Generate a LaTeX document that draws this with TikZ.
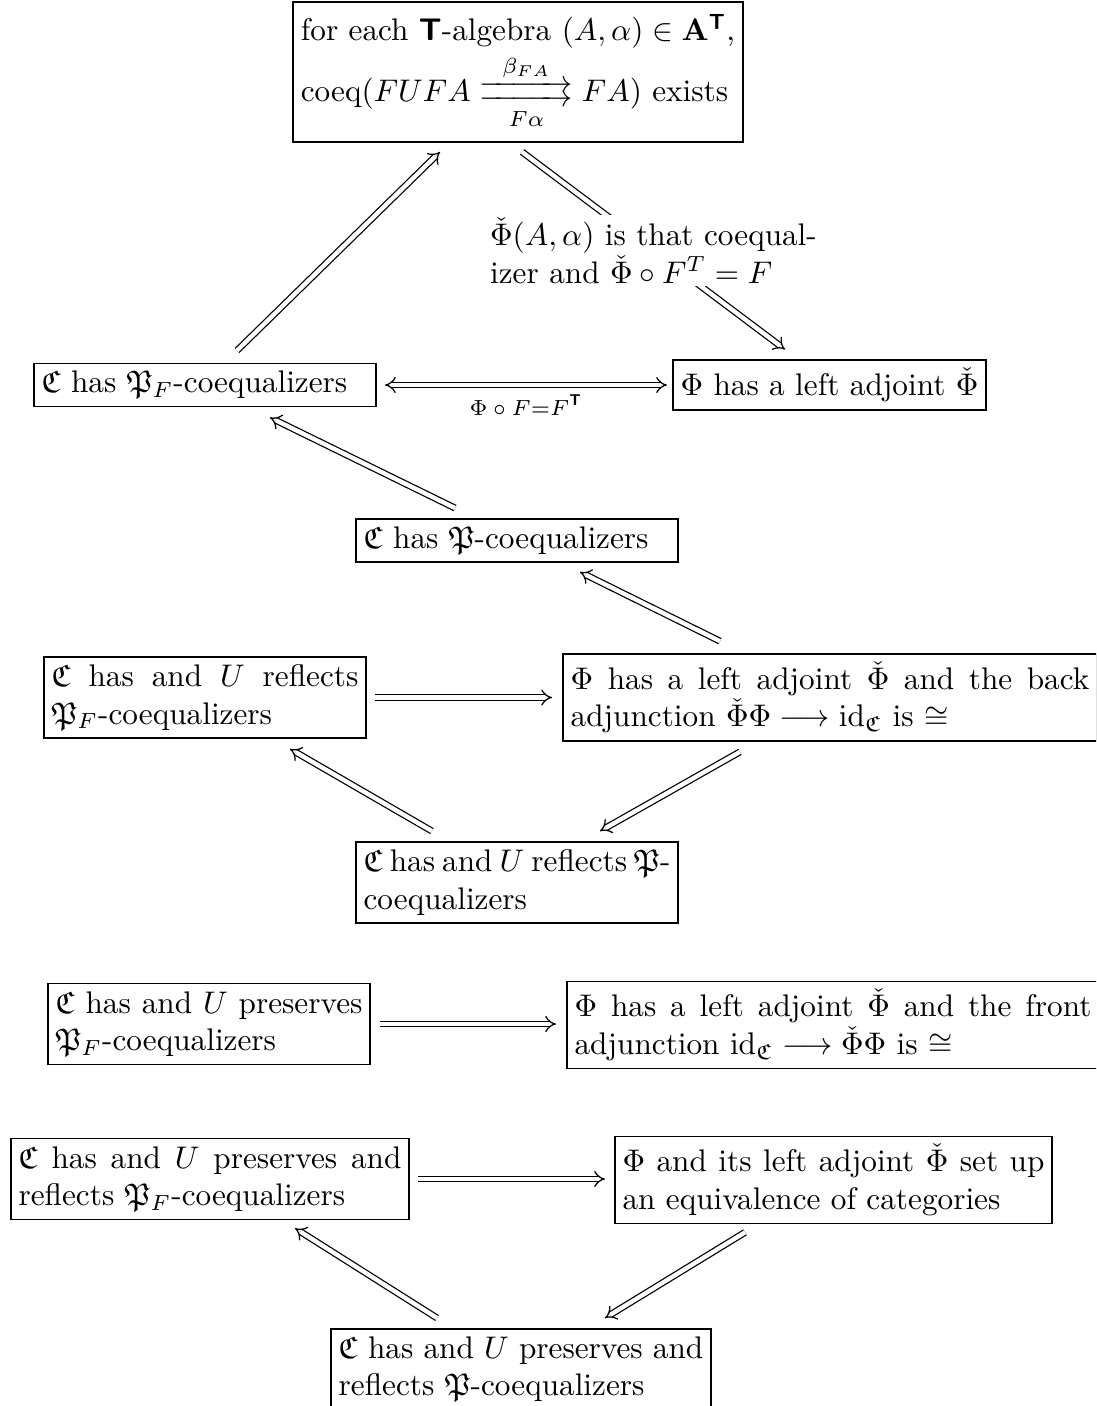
\documentclass[tikz,border=0pt]{standalone}
\usepackage{amsmath,amssymb}
\usetikzlibrary{arrows.meta,calc}
\newcommand{\bT}{\text{\sffamily\bfseries T}}
\newcommand{\pararrows}[2]{\mathrel{\mathop{\vcenter{\offinterlineskip\hbox to 30pt{\rightarrowfill}\kern0.8pt\hbox to 30pt{\rightarrowfill}}}\limits^{#1}_{#2}}}
\tikzset{
  box/.style={draw, line width=0.5pt, inner sep=2.5pt, align=justify},
  dbl/.style={double, double distance=1.4pt, line width=0.4pt, -{Implies}},
  dblboth/.style={double, double distance=1.4pt, line width=0.4pt, {Implies}-{Implies}},
}
\begin{document}
\begin{tikzpicture}[x=0.32pt,y=-0.32pt]
\useasboundingbox (0,0) rectangle (1096,1406);
\clip (0,0) rectangle (1096,1406);

\node[box, align=left, inner ysep=4pt] (top) at (518,72)
  {for each \textbf{\textsf{T}}-algebra $(A,\alpha)\in\mathbf{A}^{\bT}$,\\[1pt]
   coeq$(FUFA\pararrows{\beta_{FA}}{F\alpha}FA)$ exists};

\node[box, align=left, text width=104.6pt] (r2L) at (205,385)
  {$\mathfrak C$ has $\mathfrak P_F$-coequalizers};
\node[box, align=left] (r2R) at (829.5,385)
  {$\Phi$ has a left adjoint $\check\Phi$};

\node[box, align=left, text width=98.2pt] (r3) at (517,540.5)
  {$\mathfrak C$ has $\mathfrak P$-coequalizers};

\node[box, text width=98.2pt] (r4L) at (205,697.5)
  {$\mathfrak C$ has and $U$ reflects\linebreak $\mathfrak P_F$-coequalizers};
\node[box, text width=166pt] (r4R) at (830,697.5)
  {$\Phi$ has a left adjoint $\check\Phi$ and the back\linebreak adjunction $\check\Phi\Phi\longrightarrow\mathrm{id}_{\mathfrak C}$ is $\cong$};

\node[box, text width=98.2pt] (r5) at (517,882.5)
  {$\mathfrak C$ has and $U$ reflects $\mathfrak P$-\linebreak coequalizers};

\node[box, text width=98.2pt] (r6L) at (209,1024)
  {$\mathfrak C$ has and $U$ preserves\linebreak $\mathfrak P_F$-coequalizers};
\node[box, text width=165.4pt] (r6R) at (833,1025)
  {$\Phi$ has a left adjoint $\check\Phi$ and the front\linebreak adjunction $\mathrm{id}_{\mathfrak C}\longrightarrow\check\Phi\Phi$ is $\cong$};

\node[box, text width=122.5pt] (r7L) at (210,1179)
  {$\mathfrak C$ has and $U$ preserves and\linebreak reflects $\mathfrak P_F$-coequalizers};
\node[box, text width=135pt] (r7R) at (833.5,1180)
  {$\Phi$ and its left adjoint $\check\Phi$ set up\linebreak an equivalence of categories};

\node[box, text width=116.7pt, anchor=north] (r8) at (521,1328)
  {$\mathfrak C$ has and $U$ preserves and\linebreak reflects $\mathfrak P$-coequalizers};

% connectors
\draw[dbl] ($(r2L.north)+(32,-12)$) -- ($(top.south)+(-78,9)$);
\draw[dbl] ($(top.south)+(4,9)$) --
  node[fill=white, inner sep=1pt, align=left] (lab)
  {$\check\Phi(A,\alpha)$ is that coequal-\\izer and $\check\Phi\circ F^T=F$}
  ($(r2R.north)+(-44.5,-10)$);
\draw[dblboth] ($(r2L.east)+(8,0)$) --
  node[below, font=\scriptsize, inner sep=3pt] (phiF) {$\Phi\circ F{=}F^{\bT}$}
  ($(r2L.east -| r2R.west)+(-5,0)$);
\draw[dbl] ($(r3.north)+(-62,-10)$) -- ($(r2L.south)+(65,10)$);
\draw[dbl] ($(r4R.north)+(-110,-12)$) -- ($(r3.south)+(63,9)$);
\draw[dbl] ($(r4L.east)+(8,0)$) -- ($(r4L.east -| r4R.west)+(-10,0)$);
\draw[dbl] ($(r5.north)+(-85,-10)$) -- ($(r4L.south)+(85,10)$);
\draw[dbl] ($(r4R.south)+(-90,10)$) -- ($(r5.north)+(83,-10)$);
\draw[dbl] ($(r6L.east)+(9,0)$) -- ($(r6L.east -| r6R.west)+(-10,0)$);
\draw[dbl] ($(r7L.east)+(8,0)$) -- ($(r7L.east -| r7R.west)+(-9,0)$);
\draw[dbl] ($(r8.north)+(-84,-10)$) -- ($(r7L.south)+(85,8)$);
\draw[dbl] ($(r7R.south)+(-88.5,8)$) -- ($(r8.north)+(84,-10)$);
\end{tikzpicture}
\end{document}
